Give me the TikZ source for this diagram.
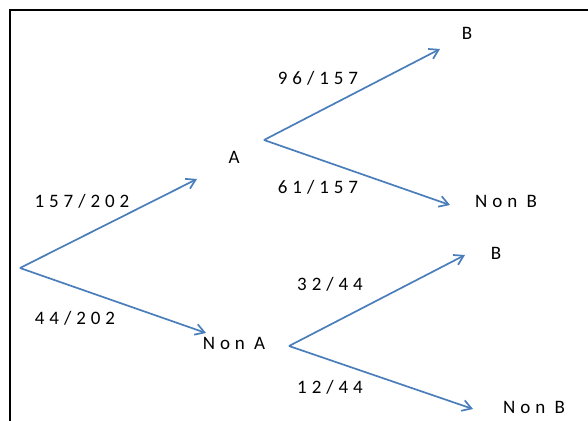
\documentclass[tikz,border=0pt]{standalone}
\usepackage{fontspec}
\setmainfont{Carlito}[LetterSpace=26]
\usetikzlibrary{arrows.meta}
\definecolor{lineblue}{HTML}{4A7EBB}
\begin{document}
\begin{tikzpicture}[x=1pt,y=-1pt,
  edge/.style={draw=lineblue,line width=1.7pt,-{Straight Barb[length=9pt,width=11pt,line width=1.7pt]}},
  lbl/.style={font=\fontsize{19}{21}\selectfont,inner sep=0pt}]
\useasboundingbox (0,0) rectangle (588,420);
\draw[line width=1.2pt] (10,430) -- (10,10) -- (600,10);
\coordinate (root) at (20,268);
\coordinate (a) at (264,140);
\coordinate (na) at (289,346);
\coordinate (ae) at (197,179);
\coordinate (nae) at (206,333);
\coordinate (ab) at (440,49);
\coordinate (anb) at (450,205);
\coordinate (nab) at (465,255);
\coordinate (nanb) at (473,409);
\node[lbl] (A) at (234,157) {A};
\node[lbl] (NA) at (234,343) {Non A};
\node[lbl] (B1) at (467,33) {B};
\node[lbl] (NB1) at (506,201) {Non B};
\node[lbl] (B2) at (496,253) {B};
\node[lbl] (NB2) at (534,407) {Non B};
\node[lbl] (l1) at (82,201) {157/202};
\node[lbl] (l2) at (75,318) {44/202};
\node[lbl] (l3) at (318,78) {96/157};
\node[lbl] (l4) at (318,187) {61/157};
\node[lbl] (l5) at (330,284) {32/44};
\node[lbl] (l6) at (330,387) {12/44};
\draw[edge] (root) -- (ae);
\draw[edge] (root) -- (nae);
\draw[edge] (a) -- (ab);
\draw[edge] (a) -- (anb);
\draw[edge] (na) -- (nab);
\draw[edge] (na) -- (nanb);
\end{tikzpicture}
\end{document}
